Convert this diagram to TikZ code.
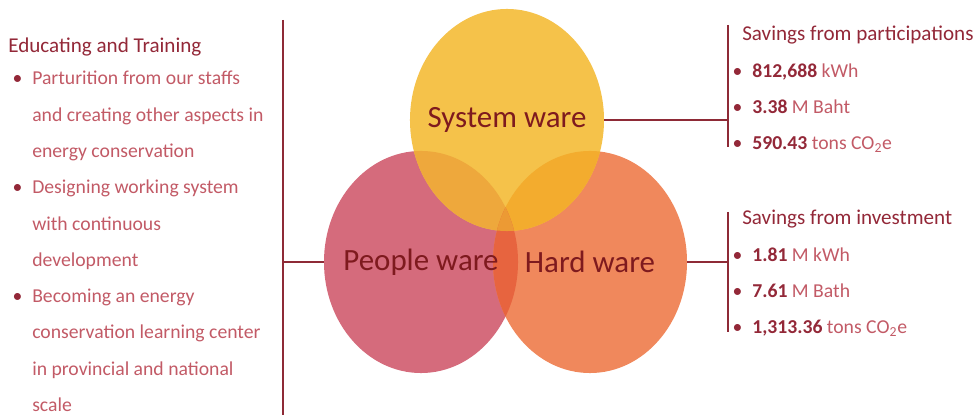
\documentclass[tikz,border=0pt]{standalone}
\usepackage{fontspec}
\setmainfont{Carlito}
\usetikzlibrary{positioning, shapes.geometric}

\definecolor{sysyellow}{HTML}{F5C24A}
\definecolor{pplpink}{HTML}{D56B7C}
\definecolor{hwdorange}{HTML}{F0885C}
\definecolor{sysppl}{HTML}{EEA83C}
\definecolor{syshwd}{HTML}{F3AC2E}
\definecolor{pplhwd}{HTML}{E7643F}
\definecolor{allthree}{HTML}{EC9A34}
\definecolor{linered}{HTML}{8E2A36}
\definecolor{headred}{HTML}{932838}
\definecolor{bodyred}{HTML}{C25A66}
\definecolor{labelred}{HTML}{7E1A1E}

\newcommand{\bul}{\llap{\textcolor{headred}{\textbullet}\hspace{7pt}}}
\newcommand{\num}[1]{\textbf{\textcolor{headred}{#1}}}

\begin{document}
\begin{tikzpicture}[
    x=0.025cm, y=-0.025cm,
    ware/.style={ellipse, minimum width=4.85cm, minimum height=5.55cm, inner sep=0pt},
    warelabel/.style={font=\fontsize{22}{26}\selectfont, text=labelred},
    head/.style={anchor=west, inner sep=0pt, font=\fontsize{15}{18}\selectfont, text=headred},
    items/.style={anchor=north west, inner sep=0pt, align=left, font=\fontsize{14}{25.8}\selectfont, text=bodyred},
    bar/.style={draw=linered, line width=1.4pt}
]
\useasboundingbox (0,0) rectangle (974,419);

% Circles
\node[ware, fill=pplpink] (ppl) at (421,262) {};
\node[ware, fill=hwdorange] (hwd) at (590,262) {};
\node[ware, fill=sysyellow] (sys) at (507,120) {};

% Overlaps
\begin{scope}
  \clip (sys.center) ellipse [x radius=2.425cm, y radius=2.775cm];
  \fill[sysppl] (ppl.center) ellipse [x radius=2.425cm, y radius=2.775cm];
  \fill[syshwd] (hwd.center) ellipse [x radius=2.425cm, y radius=2.775cm];
\end{scope}
\begin{scope}
  \clip (ppl.center) ellipse [x radius=2.425cm, y radius=2.775cm];
  \fill[pplhwd] (hwd.center) ellipse [x radius=2.425cm, y radius=2.775cm];
  \clip (sys.center) ellipse [x radius=2.425cm, y radius=2.775cm];
  \fill[allthree] (hwd.center) ellipse [x radius=2.425cm, y radius=2.775cm];
\end{scope}

% Labels
\node[warelabel] (syslabel) at (sys.center) {System ware};
\node[warelabel] (ppllabel) at (ppl.center) {People ware};
\node[warelabel] (hwdlabel) at (hwd.center) {Hard ware};

% Bars
\coordinate (lbartop) at (283,20);
\coordinate (lbarbot) at (283,415);
\coordinate (pbartop) at (728,25);
\coordinate (pbarbot) at (728,147);
\coordinate (ibartop) at (728,212);
\coordinate (ibarbot) at (728,332);
\draw[bar] (lbartop) -- (lbarbot);
\draw[bar] (pbartop) -- (pbarbot);
\draw[bar] (ibartop) -- (ibarbot);
\draw[bar] (ppl.west) -- (ppl.west -| lbartop);
\draw[bar] (sys.east) -- (sys.east -| pbartop);
\draw[bar] (hwd.east) -- (hwd.east -| ibartop);

% Left text
\node[head] (trainhead) at (8,47) {Educating and Training};
\node[items] (trainlist) at (32,71) {\bul Parturition from our staffs\\
  and creating other aspects in\\
  energy conservation\\
  \bul Designing working system\\
  with continuous\\
  development\\
  \bul Becoming an energy\\
  conservation learning center\\
  in provincial and national\\
  scale};

% Right text
\node[head] (parthead) at (742,35) {Savings from participations};
\node[items, font=\fontsize{14}{25.4}\selectfont] (partlist) at (752,64)
  {\bul\num{812,688} kWh\\ \bul\num{3.38} M Baht\\ \bul\num{590.43} tons CO\textsubscript{2}e};
\node[head] (invhead) at (742,219) {Savings from investment};
\node[items, font=\fontsize{14}{25.4}\selectfont] (invlist) at (752,248)
  {\bul\num{1.81} M kWh\\ \bul\num{7.61} M Bath\\ \bul\num{1,313.36} tons CO\textsubscript{2}e};

\end{tikzpicture}
\end{document}
